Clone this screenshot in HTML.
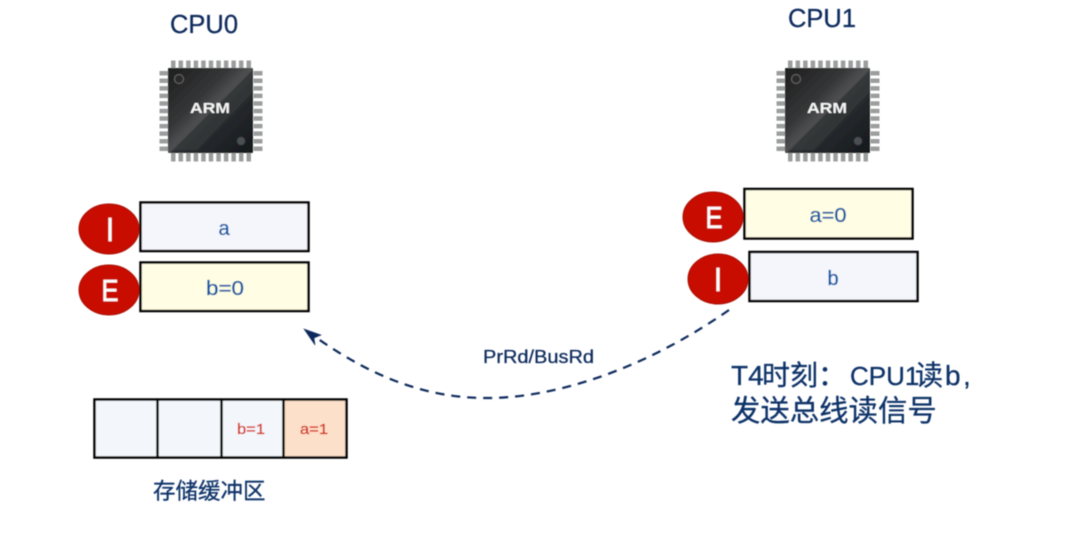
<!DOCTYPE html>
<html><head><meta charset="utf-8">
<style>
html,body{margin:0;padding:0;background:#fff;width:1067px;height:534px;overflow:hidden}
svg{display:block}
text{font-family:"Liberation Sans","Noto Sans CJK SC",sans-serif}
.t{stroke-width:.28px}
.w{stroke:#fff;stroke-width:.5px}
</style></head>
<body>
<svg width="1067" height="534" viewBox="0 0 1067 534" xmlns="http://www.w3.org/2000/svg">
<defs>
<linearGradient id="chip" x1="0" y1="0" x2="1" y2="1">
<stop offset="0" stop-color="#1e1e1e"/><stop offset=".36" stop-color="#353637"/><stop offset=".5" stop-color="#505152"/><stop offset=".52" stop-color="#2c3033"/><stop offset="1" stop-color="#14181b"/>
</linearGradient>
<filter id="soft" x="-5%" y="-5%" width="110%" height="110%"><feGaussianBlur stdDeviation="0.45"/></filter>
<g id="chipg">
<g fill="none" stroke="#9c9e9e" stroke-width="9">
<line x1="171" y1="65" x2="251" y2="65" stroke-dasharray="4.500 3.050"/>
<line x1="171" y1="157" x2="251" y2="157" stroke-dasharray="4.500 3.050"/>
<line x1="164" y1="71" x2="164" y2="151" stroke-dasharray="4.500 3.050"/>
<line x1="258" y1="71" x2="258" y2="151" stroke-dasharray="4.500 3.050"/>
</g>
<rect x="168" y="68" width="85" height="85" rx="1" fill="url(#chip)"/>
<polygon points="171,148 247,72 253,72 253,92 197,150 171,150" fill="#4a4b4c" opacity=".3"/>
<circle cx="179" cy="79" r="4.500" fill="#2a2a2a" stroke="#666" stroke-width="1"/>
<circle cx="241" cy="141" r="4.500" fill="#4a5052" stroke="#222" stroke-width="1"/>
<text x="210" y="113" text-anchor="middle" font-size="15" font-weight="bold" fill="#f6f6f6" textLength="40" lengthAdjust="spacingAndGlyphs">ARM</text>
</g>
</defs>

<g filter="url(#soft)">
<text class="t" x="204" y="33" text-anchor="middle" font-size="26" fill="#0a2a5c" stroke="#0a2a5c" textLength="68" lengthAdjust="spacingAndGlyphs">CPU0</text>
<text class="t" x="822" y="27" text-anchor="middle" font-size="26" fill="#0a2a5c" stroke="#0a2a5c" textLength="68" lengthAdjust="spacingAndGlyphs">CPU1</text>

<use href="#chipg"/>
<use href="#chipg" x="617" y="0"/>

<rect x="140.500" y="202.500" width="168" height="48.500" fill="#f4f6fb" stroke="#000" stroke-width="2.500"/>
<rect x="140.500" y="262.500" width="168" height="48.500" fill="#fffde3" stroke="#000" stroke-width="2.500"/>
<ellipse cx="109" cy="229" rx="30" ry="25" fill="#c80f06" stroke="#a50b04"/>
<ellipse cx="109" cy="290" rx="30" ry="25" fill="#c80f06" stroke="#a50b04"/>
<text class="w" x="110" y="241" text-anchor="middle" font-size="33" fill="#fff" textLength="8" lengthAdjust="spacingAndGlyphs">I</text>
<text class="w" x="110" y="301" text-anchor="middle" font-size="31" fill="#fff" textLength="17" lengthAdjust="spacingAndGlyphs">E</text>
<text class="t" x="224" y="235" text-anchor="middle" font-size="20" fill="#0558a6" stroke="#0558a6">a</text>
<text class="t" x="225" y="295" text-anchor="middle" font-size="20" fill="#0558a6" stroke="#0558a6" textLength="38" lengthAdjust="spacingAndGlyphs">b=0</text>

<rect x="744.500" y="189" width="168" height="49.500" fill="#fffde3" stroke="#000" stroke-width="2.500"/>
<rect x="749.500" y="252" width="168" height="49" fill="#f4f6fb" stroke="#000" stroke-width="2.500"/>
<ellipse cx="713" cy="217" rx="30" ry="25" fill="#c80f06" stroke="#a50b04"/>
<ellipse cx="718" cy="279" rx="30" ry="25" fill="#c80f06" stroke="#a50b04"/>
<text class="w" x="714" y="228" text-anchor="middle" font-size="31" fill="#fff" textLength="17" lengthAdjust="spacingAndGlyphs">E</text>
<text class="w" x="718" y="291" text-anchor="middle" font-size="33" fill="#fff" textLength="8" lengthAdjust="spacingAndGlyphs">I</text>
<text class="t" x="828" y="222" text-anchor="middle" font-size="20" fill="#0558a6" stroke="#0558a6" textLength="37" lengthAdjust="spacingAndGlyphs">a=0</text>
<text class="t" x="833" y="285" text-anchor="middle" font-size="20" fill="#0558a6" stroke="#0558a6">b</text>

<path d="M729,310 C640,372 550,399 483,398 C410,397 355,365 311,334" fill="none" stroke="#0a2a5c" stroke-width="2.200" stroke-dasharray="9 7"/>
<path d="M304,329 L321,335 L314,338 L315,345 Z" fill="#0a2a5c" stroke="#0a2a5c" stroke-width=".6"/>

<text class="t" x="483" y="363" font-size="18" fill="#0a2a5c" stroke="#0a2a5c" textLength="111" lengthAdjust="spacingAndGlyphs">PrRd/BusRd</text>

<text class="t" font-size="28" fill="#0a3268" stroke="#0a3268" y="385">
<tspan x="731">T4</tspan><tspan x="762">时刻：</tspan><tspan x="850" font-size="26">CPU1</tspan><tspan x="915">读</tspan><tspan x="945">b</tspan><tspan x="963">,</tspan>
</text>
<text class="t" x="731" y="421" font-size="29.400" fill="#0a3268" stroke="#0a3268">发送总线读信号</text>

<rect x="94.500" y="399.500" width="63" height="58" fill="#f3f6fb"/>
<rect x="157.500" y="399.500" width="64" height="58" fill="#f3f6fb"/>
<rect x="221.500" y="399.500" width="62" height="58" fill="#f3f6fb"/>
<rect x="283.500" y="399.500" width="63" height="58" fill="#fde0c9"/>
<rect x="94.500" y="399.500" width="252" height="58" fill="none" stroke="#000" stroke-width="2.500"/>
<path d="M157.500,399.500V457.500M221.500,399.500V457.500M283.500,399.500V457.500" stroke="#000" stroke-width="2.500"/>
<text class="t" x="251" y="434" text-anchor="middle" font-size="15" fill="#d42a18" stroke="#d42a18" textLength="28" lengthAdjust="spacingAndGlyphs">b=1</text>
<text class="t" x="314" y="434" text-anchor="middle" font-size="15" fill="#d42a18" stroke="#d42a18" textLength="28" lengthAdjust="spacingAndGlyphs">a=1</text>
<text class="t" x="153" y="499" font-size="22.500" fill="#0a3268" stroke="#0a3268">存储缓冲区</text>
</g>
</svg>
</body></html>
